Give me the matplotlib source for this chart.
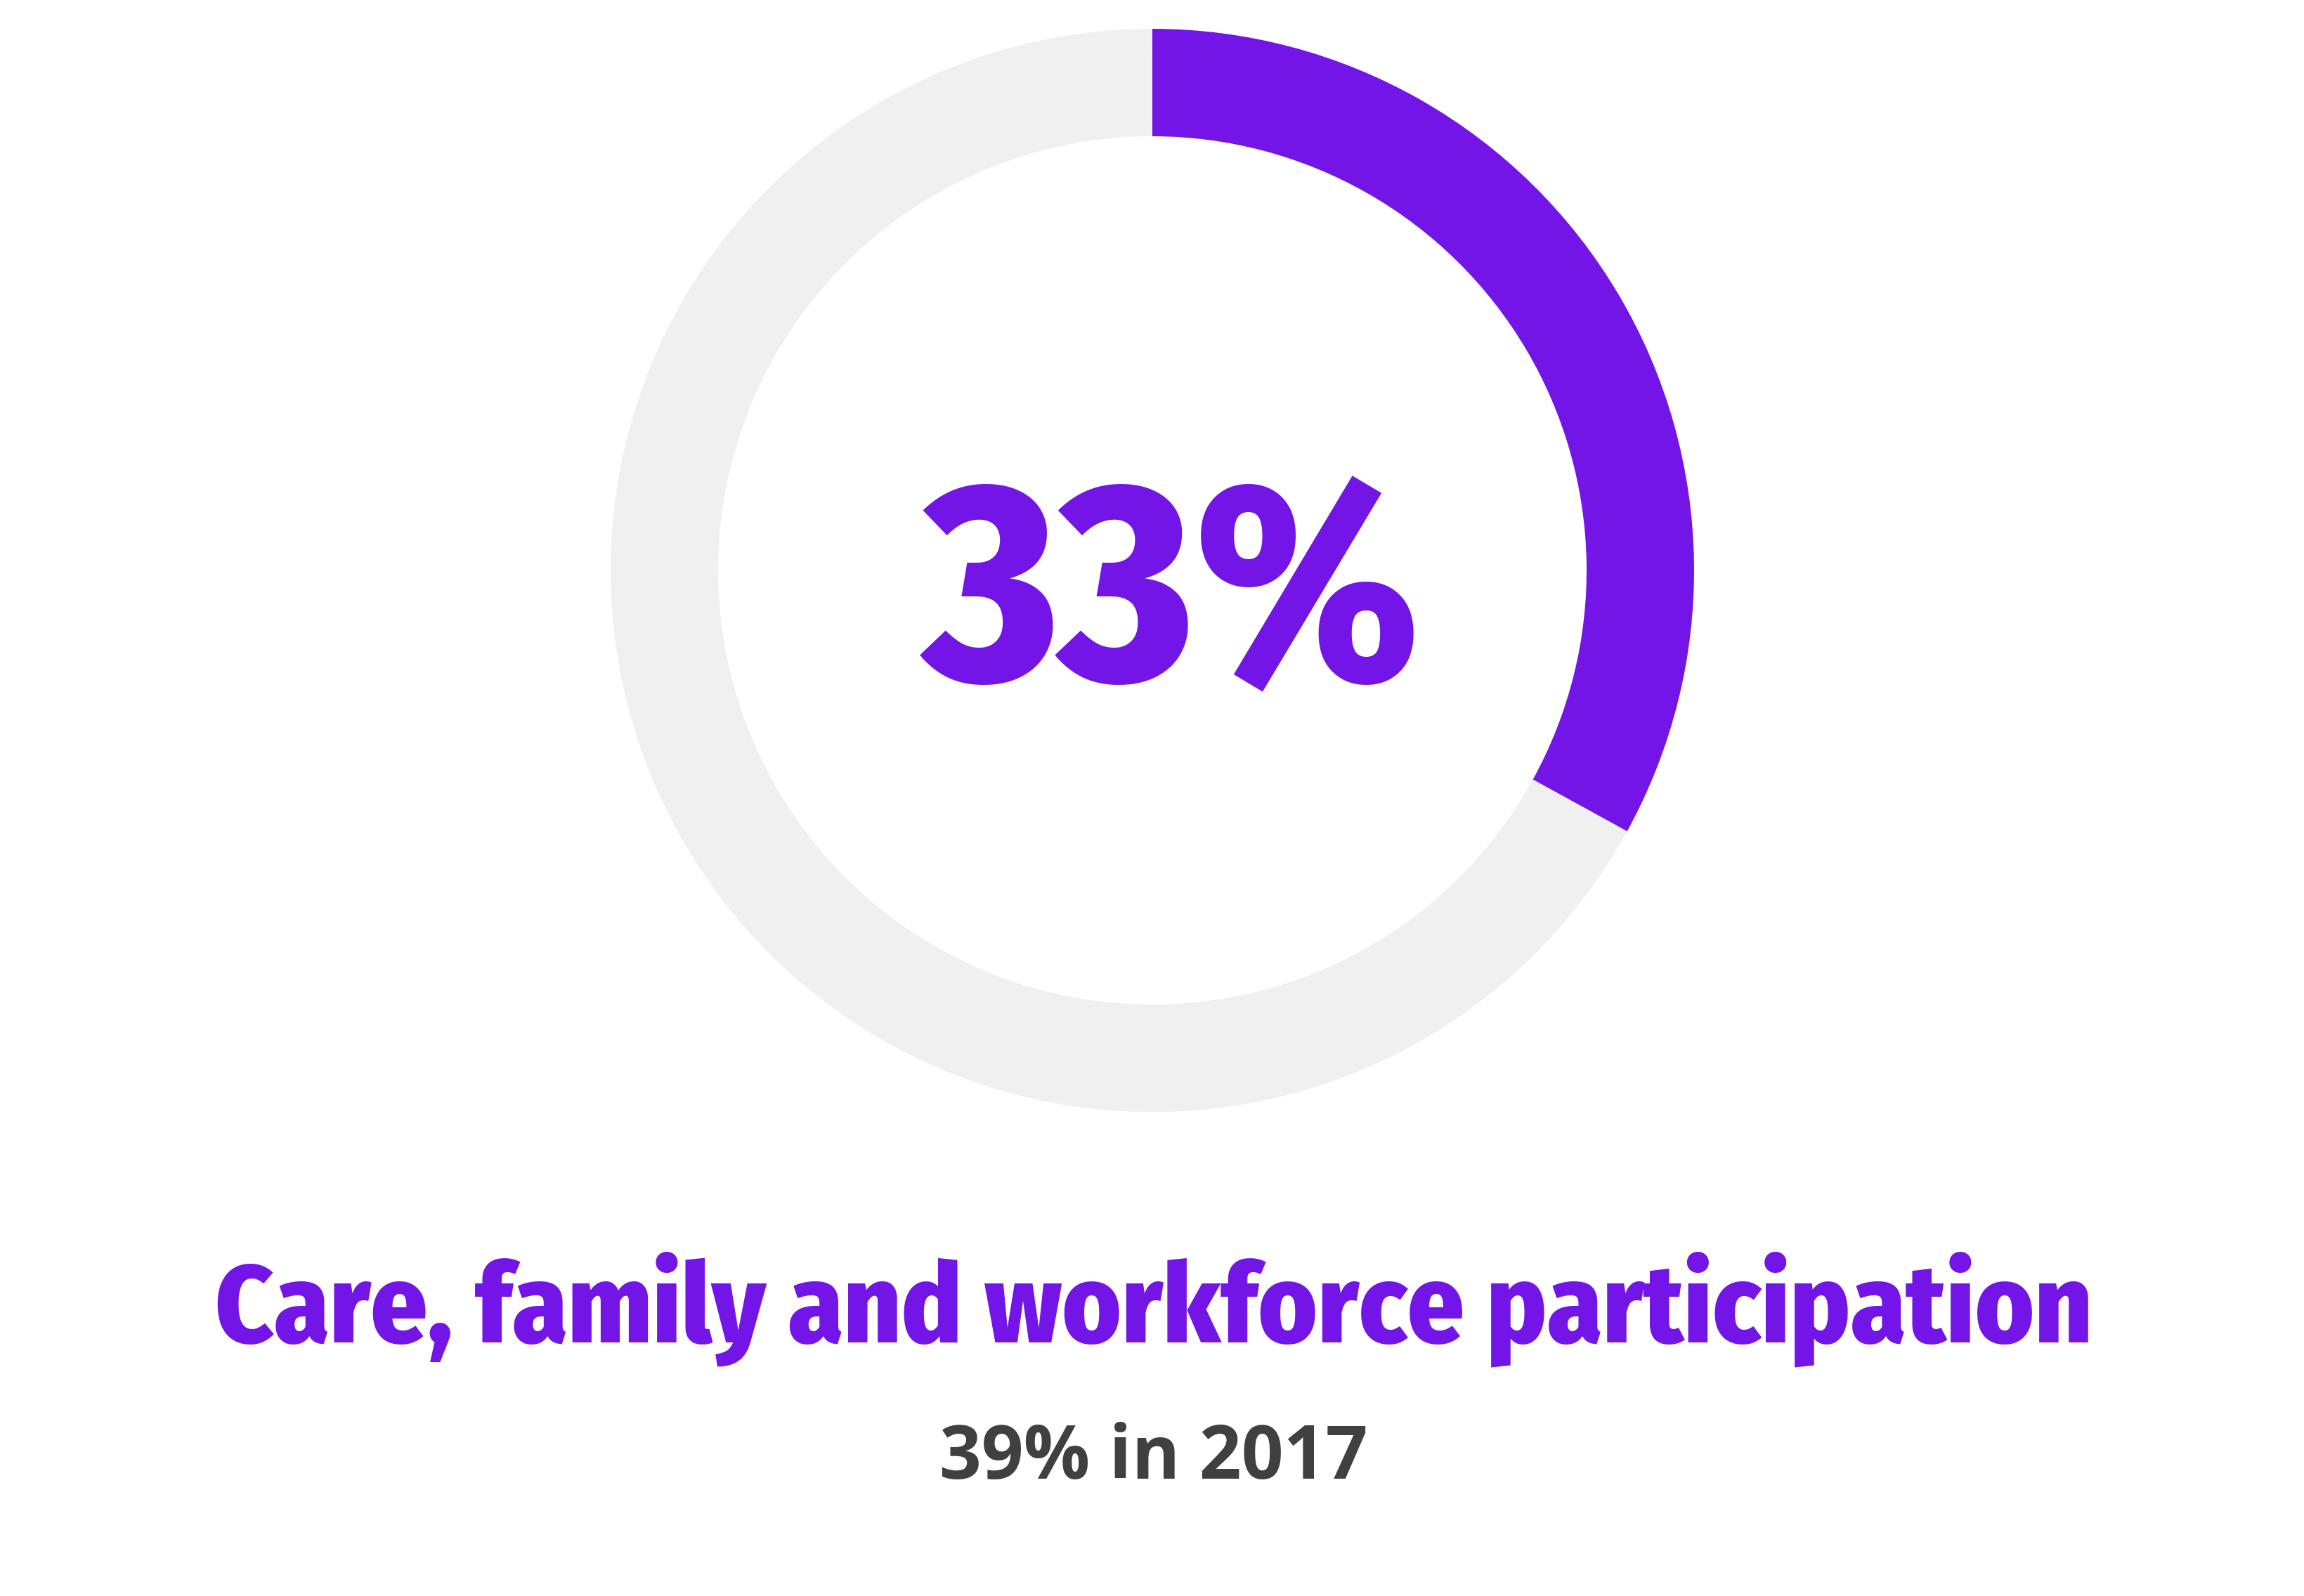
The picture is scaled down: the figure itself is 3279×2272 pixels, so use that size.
import matplotlib
matplotlib.use('Agg')
import matplotlib.pyplot as plt

# share of the ring that is filled
value = 33
share = [value, 100 - value]
ring_colors = ['#7415e8', '#f0f0f0']

big_label = f'{value}%'
title = 'Care, family and workforce participation'
subtitle = '39% in 2017'

W, H = 3280, 2272
fig = plt.figure(figsize=(W / 200, H / 200), dpi=200)
ax = fig.add_axes([0, 0, 1, 1])

cx, cy = 1640, H - 812
r_out, r_in = 771, 618
ax.pie(share, colors=ring_colors, startangle=90, counterclock=False,
       center=(cx, cy), radius=r_out,
       wedgeprops=dict(width=r_out - r_in, linewidth=0))
ax.set_xlim(0, W)
ax.set_ylim(0, H)
ax.set_aspect('equal')
ax.axis('off')

def fy(px):
    return 1 - px / H

# no Open Sans Condensed Bold here, Fira Sans Condensed is the nearest narrow bold face
cond = ['Fira Sans Condensed', 'Open Sans', 'DejaVu Sans']
fig.text(1668 / W, fy(968), big_label, ha='center', va='baseline',
         fontsize=145, family=cond, weight=800, color='#7415e8')
fig.text(1642 / W, fy(1910), title, ha='center', va='baseline',
         fontsize=57, family=cond, weight=800, color='#7415e8')
fig.text(1642 / W, fy(2105), subtitle, ha='center', va='baseline',
         fontsize=37.8, family='Open Sans', weight='bold', color='#404040')

fig.savefig('out.png', dpi=200, facecolor='white')
